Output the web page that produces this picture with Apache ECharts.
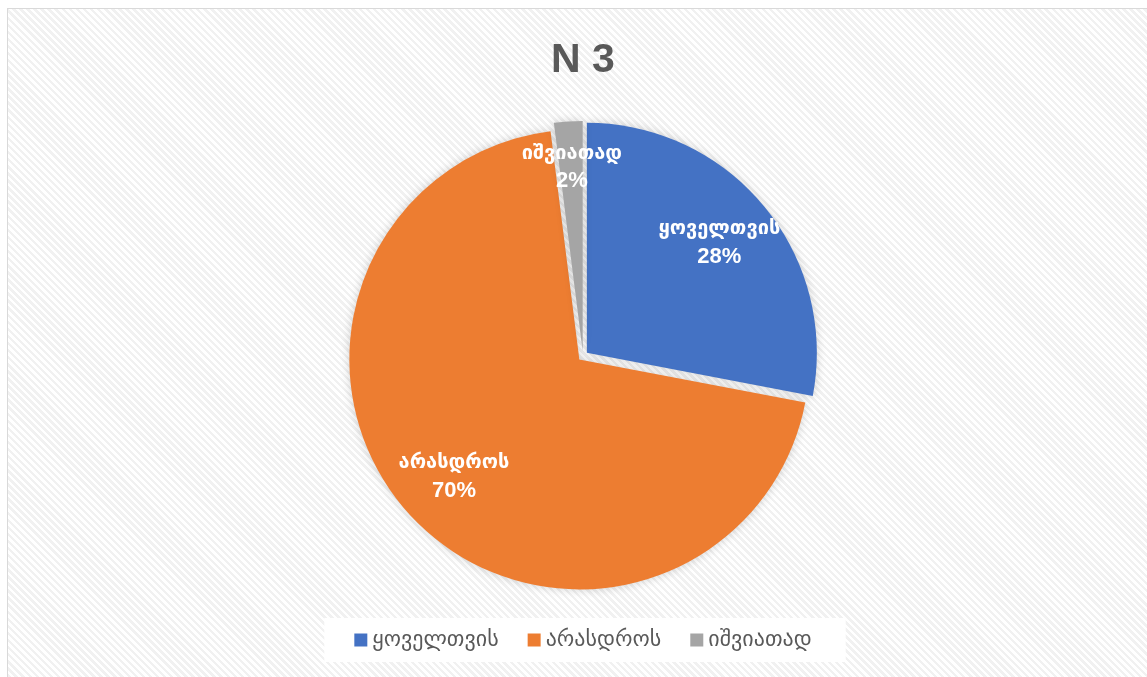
<!DOCTYPE html>
<html>
<head>
<meta charset="utf-8">
<script src="https://cdn.jsdelivr.net/npm/echarts@6/dist/echarts.min.js"></script>
<style>
html,body{margin:0;padding:0;width:1147px;height:677px;overflow:hidden;background:#fff;}
#frame{position:absolute;left:7px;top:8px;width:1150px;height:700px;border:1px solid #d9d9d9;
background:repeating-linear-gradient(45deg,#ffffff 0px,#ffffff 2.5px,#f1f1f1 2.5px,#f1f1f1 5px);}
#chart{width:1150px;height:700px;}
</style>
</head>
<body>
<div id="frame"><div id="chart"></div></div>
<script>
const titleText = 'N 3';
const categories = ['ყოველთვის', 'არასდროს', 'იშვიათად'];
const values = [28, 70, 2];
const colors = ['#4472C4', '#ED7D31', '#A5A5A5'];

const fontStack = "'Liberation Sans', 'DejaVu Sans', sans-serif";
const CX = 575, CY = 347, R = 230, EXPLODE = 5;
const total = values.reduce((a, b) => a + b, 0);

// one series per slice, each offset outwards along its own mid-angle (exploded pie)
const sliceSeries = [];
let cum = 0;
values.forEach((v, i) => {
  const mid = (cum + v / 2) / total * Math.PI * 2;
  cum += v;
  sliceSeries.push({
    type: 'pie',
    center: [CX + EXPLODE * Math.sin(mid), CY - EXPLODE * Math.cos(mid)],
    radius: [0, R],
    startAngle: 90,
    clockwise: true,
    silent: true,
    label: { show: false },
    labelLine: { show: false },
    data: categories.map((c, j) => ({
      name: c,
      value: values[j],
      itemStyle: j === i
        ? { color: colors[j], shadowBlur: 10, shadowColor: 'rgba(0,0,0,0.18)' }
        : { color: 'rgba(0,0,0,0)' }
    }))
  });
});

const labelSeries = {
  type: 'pie',
  center: [CX, CY],
  radius: [118, R],
  startAngle: 90,
  clockwise: true,
  percentPrecision: 0,
  silent: true,
  itemStyle: { color: 'rgba(0,0,0,0)' },
  label: {
    show: true,
    position: 'inside',
    formatter: '{n|{b}}\n{p|{d}%}',
    color: '#ffffff',
    fontWeight: 'bold',
    fontFamily: fontStack,
    rich: {
      n: { fontSize: 20, lineHeight: 28, fontWeight: 'bold', color: '#fff', fontFamily: "'DejaVu Sans', sans-serif" },
      p: { fontSize: 22, lineHeight: 28, fontWeight: 'bold', color: '#fff', fontFamily: fontStack }
    }
  },
  labelLine: { show: false },
  data: categories.map((c, j) => ({
    name: c,
    value: values[j],
    label: j === values.length - 1 ? { padding: [0, 0, 24, 0] } : undefined
  }))
};

const chart = echarts.init(document.getElementById('chart'), null, { renderer: 'canvas' });
chart.setOption({
  backgroundColor: 'transparent',
  animation: false,
  title: {
    text: titleText,
    left: 'center',
    top: 26,
    textStyle: { fontSize: 41, fontWeight: 'bold', color: '#595959', fontFamily: fontStack }
  },
  legend: {
    data: categories.map((c, i) => ({ name: c, itemStyle: { color: colors[i] } })),
    left: 'center',
    top: 609,
    backgroundColor: '#ffffff',
    padding: [11, 34, 11, 30],
    itemWidth: 13,
    itemHeight: 13,
    itemGap: 29,
    icon: 'rect',
    textStyle: { fontSize: 22, color: '#595959', fontFamily: "'DejaVu Sans', sans-serif" }
  },
  series: sliceSeries.concat([labelSeries])
});
</script>
</body>
</html>
